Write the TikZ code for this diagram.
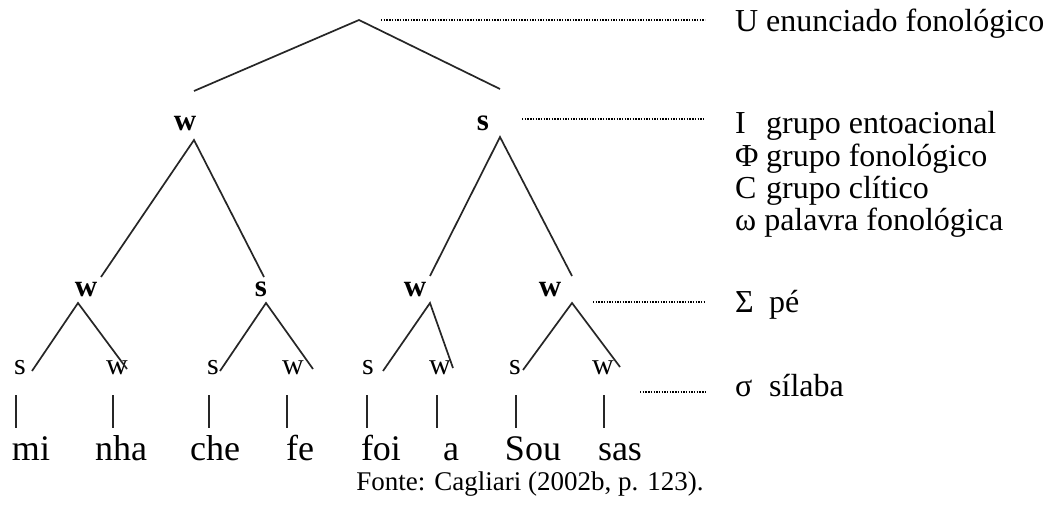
\documentclass[tikz,border=0pt]{standalone}
\usepackage{fontspec}
\setmainfont{Liberation Serif}
\begin{document}
\begin{tikzpicture}[x=1pt,y=-1pt,
  tl/.style={line width=1.7pt, black!85},
  dl/.style={line width=1.9pt, dash pattern=on 1.4pt off 1.3pt, black},
  labb/.style={inner sep=0pt, anchor=base, font=\fontsize{31}{31}\selectfont\bfseries},
  labn/.style={inner sep=0pt, anchor=base, font=\fontsize{30}{30}\selectfont},
  word/.style={inner sep=0pt, anchor=base, font=\fontsize{36}{36}\selectfont},
  keytxt/.style={inner sep=0pt, anchor=base west, font=\fontsize{32}{32}\selectfont},
  captxt/.style={inner sep=0pt, anchor=base, font=\fontsize{27}{27}\selectfont}]
\useasboundingbox (0,0) rectangle (1055,505);
\fill[white] (0,0) rectangle (1055,505);

% ---------- tree attachment points ----------
\coordinate (Rx) at (359,20);
\coordinate (At) at (194,91);   \coordinate (Ax) at (194,140);
\coordinate (Bt) at (500,89);   \coordinate (Bx) at (500,137);
\coordinate (A1t) at (101,277); \coordinate (A1x) at (78,303);
\coordinate (A2t) at (264,277); \coordinate (A2x) at (266,303);
\coordinate (B1t) at (430,276); \coordinate (B1x) at (430,303);
\coordinate (B2t) at (572,276); \coordinate (B2x) at (572,303);
\coordinate (A1at) at (32,371);  \coordinate (A1bt) at (127,369);
\coordinate (A2at) at (220,371); \coordinate (A2bt) at (313,369);
\coordinate (B1at) at (383,371); \coordinate (B1bt) at (453,368);
\coordinate (B2at) at (523,370); \coordinate (B2bt) at (620,367);

% ---------- labels ----------
\node[labb] (A) at (185,131) {w};
\node[labb] (B) at (483,131) {s};
\node[labb] (A1) at (86,296) {w};
\node[labb] (A2) at (261,296) {s};
\node[labb] (B1) at (415,296) {w};
\node[labb] (B2) at (550,296) {w};
\node[labn] (A1a) at (20,374) {s};
\node[labn] (A1b) at (117,374) {w};
\node[labn] (A2a) at (213,374) {s};
\node[labn] (A2b) at (293,374) {w};
\node[labn] (B1a) at (368,374) {s};
\node[labn] (B1b) at (440,374) {w};
\node[labn] (B2a) at (515,374) {s};
\node[labn] (B2b) at (603,374) {w};

% ---------- branches ----------
\draw[tl] (At) -- (Rx) -- (Bt);
\draw[tl] (A1t) -- (Ax) -- (A2t);
\draw[tl] (B1t) -- (Bx) -- (B2t);
\draw[tl] (A1at) -- (A1x) -- (A1bt);
\draw[tl] (A2at) -- (A2x) -- (A2bt);
\draw[tl] (B1at) -- (B1x) -- (B1bt);
\draw[tl] (B2at) -- (B2x) -- (B2bt);

% ---------- syllable bars ----------
\foreach \n/\x in {1/16,2/113,3/209,4/287,5/367,6/437,7/516,8/604}{
  \coordinate (v\n t) at (\x,395);
  \coordinate (v\n b) at (\x,428);
  \draw[line width=1.4pt, black!85] (v\n t) -- (v\n b);
}

% ---------- words ----------
\node[word] (w1) at (31,460) {mi};
\node[word] (w2) at (121,460) {nha};
\node[word] (w3) at (215,460) {che};
\node[word] (w4) at (300,460) {fe};
\node[word] (w5) at (381,460) {foi};
\node[word] (w6) at (451,460) {a};
\node[word] (w7) at (533,460) {Sou};
\node[word] (w8) at (620,460) {sas};

% ---------- key ----------
\node[keytxt] (kU) at (735,32) {\makebox[31pt][l]{U}enunciado fonológico};
\node[keytxt] (kI) at (735,134) {\makebox[31pt][l]{I}grupo entoacional};
\node[keytxt] (kF) at (735,167) {\makebox[31pt][l]{Φ}grupo fonológico};
\node[keytxt] (kC) at (735,199) {\makebox[31pt][l]{C}grupo clítico};
\node[keytxt] (kW) at (735,231) {ω palavra fonológica};
\node[keytxt] (kS) at (735,312) {\makebox[34pt][l]{Σ}pé};
\node[keytxt] (ks) at (735,396) {\makebox[34pt][l]{σ}sílaba};

% ---------- dotted leaders ----------
\coordinate (dU) at (381,20);  \coordinate (eU) at (705,20);
\coordinate (dI) at (522,119); \coordinate (eI) at (705,119);
\coordinate (dS) at (593,302); \coordinate (eS) at (705,302);
\coordinate (ds) at (640,392); \coordinate (es) at (705,392);
\draw[dl] (dU) -- (eU);
\draw[dl] (dI) -- (eI);
\draw[dl] (dS) -- (eS);
\draw[dl] (ds) -- (es);

% ---------- caption ----------
\node[captxt] (cap) at (530,490) {Fonte: Cagliari (2002b, p. 123).};
\end{tikzpicture}
\end{document}
